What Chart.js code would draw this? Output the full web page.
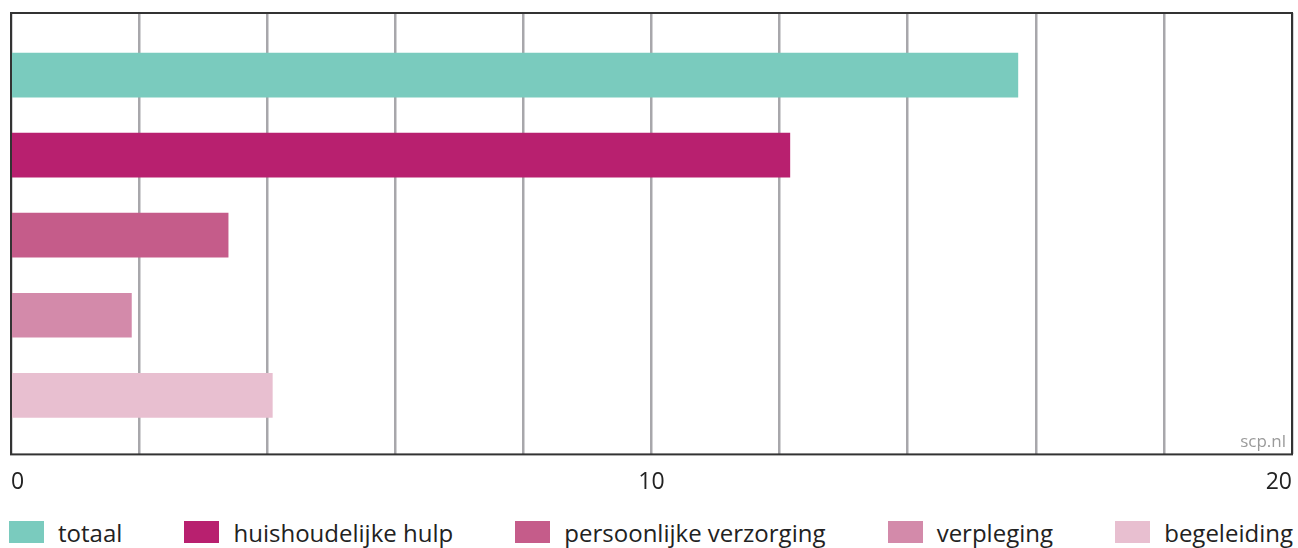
<!DOCTYPE html>
<html lang="nl">
<head>
<meta charset="utf-8">
<script src="https://cdn.jsdelivr.net/npm/chart.js@4.4.1/dist/chart.umd.min.js"></script>
<style>
  body { margin: 0; background: #fff; font-family: "Open Sans", sans-serif; }
  #wrap { position: relative; width: 1298px; height: 548px; }
  #chartBox { position: absolute; left: 0; top: 0; width: 1298px; height: 510px; }
  #legenda { position: absolute; left: 9px; width: 1284px; top: 519px; height: 26px;
    display: flex; justify-content: space-between; align-items: center; }
  .item { display: flex; align-items: center; font-size: 24px; color: #222; white-space: nowrap; }
  .blok { width: 35px; height: 22px; margin-right: 14px; }
</style>
</head>
<body>
<div id="wrap">
  <div id="chartBox"><canvas id="grafiek"></canvas></div>
  <div id="legenda"></div>
</div>
<script>
// Gegevens
const categorieen = ['totaal', 'huishoudelijke hulp', 'persoonlijke verzorging', 'verpleging', 'begeleiding'];
const waarden = [15.72, 12.16, 3.39, 1.88, 4.08];
const kleuren = ['#7acbbe', '#b8206f', '#c55c8a', '#d38aaa', '#e8bfd0'];
const tickLabels = { 0: '0', 10: '10', 20: '20' };

// Kader rond het grafiekgebied + bronvermelding
const kaderPlugin = {
  id: 'kader',
  afterDraw(chart) {
    const { ctx, chartArea: a } = chart;
    ctx.save();
    ctx.strokeStyle = '#333';
    ctx.lineWidth = 2;
    ctx.strokeRect(a.left, a.top, a.right - a.left, a.bottom - a.top);
    ctx.fillStyle = '#9a9a9a';
    ctx.font = '17px "Open Sans"';
    ctx.textAlign = 'right';
    ctx.textBaseline = 'alphabetic';
    ctx.fillText('scp.nl', a.right - 6, a.bottom - 7);
    ctx.restore();
  }
};

const datasets = categorieen.map((naam, i) => ({
  label: naam,
  data: [{ x: waarden[i], y: i }],
  backgroundColor: kleuren[i],
  grouped: false,
  barThickness: 44
}));

const ctx = document.getElementById('grafiek').getContext('2d');
window.myChart = new Chart(ctx, {
  type: 'bar',
  data: { datasets: datasets },
  options: {
    indexAxis: 'y',
    responsive: true,
    maintainAspectRatio: false,
    animation: false,
    layout: { padding: { left: 11, right: 6, top: 13, bottom: 0 } },
    plugins: { legend: { display: false }, tooltip: { enabled: false } },
    scales: {
      x: {
        type: 'linear',
        min: 0,
        max: 20,
        border: { display: false },
        grid: { color: '#a8a7ab', lineWidth: 2.5, drawTicks: false },
        ticks: {
          stepSize: 2,
          padding: 14,
          align: 'inner',
          color: '#222',
          font: { family: 'Open Sans', size: 23 },
          callback: (v) => tickLabels[v] || ''
        },
        afterFit(scale) {
          scale.paddingLeft = 0;
          scale.paddingRight = 0;
        }
      },
      y: {
        type: 'linear',
        display: false,
        reverse: true,
        offset: false,
        min: -0.775,
        max: 4.7375
      }
    }
  },
  plugins: [kaderPlugin]
});

// Legenda
const legenda = document.getElementById('legenda');
categorieen.forEach((naam, i) => {
  const el = document.createElement('div');
  el.className = 'item';
  el.innerHTML = '<span class="blok" style="background:' + kleuren[i] + '"></span>' + naam;
  legenda.appendChild(el);
});
</script>
</body>
</html>
